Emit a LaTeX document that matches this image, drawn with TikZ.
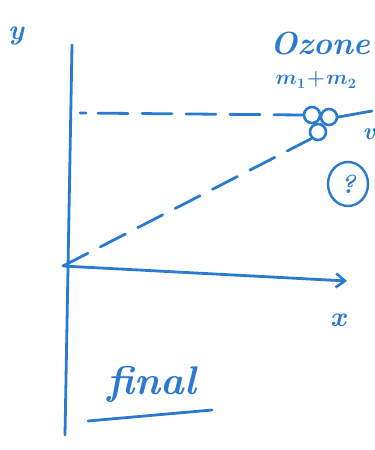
\documentclass[tikz,border=0pt]{standalone}
\usetikzlibrary{arrows.meta,shapes.geometric}
\definecolor{ink}{RGB}{42,122,208}
\begin{document}
\begin{tikzpicture}[x=1pt,y=-1pt,
  pen/.style={draw=ink,line width=2.8pt,line cap=round},
  lbl/.style={text=ink,inner sep=0pt},
  dashline/.style={pen,dash pattern=on 28pt off 14pt}]
\useasboundingbox (0,0) rectangle (375,450);
% axes
\coordinate (ytop) at (72,45);
\coordinate (ybot) at (65,435);
\coordinate (orig) at (63,266);
\coordinate (xend) at (347,281);
\draw[pen] (ytop) -- (ybot);
\draw[pen,-{Straight Barb[length=9pt,width=14pt,line width=2.6pt]}] (orig) -- (xend);
\node[lbl,font=\fontsize{28}{28}\selectfont\bfseries\itshape] (ylab) at (16,36) {y};
\node[lbl,font=\fontsize{28}{28}\selectfont\bfseries\itshape] (xlab) at (338,320) {x};
% molecule circles
\node[draw=ink,line width=2.6pt,circle,minimum size=16pt,inner sep=0pt] (c1) at (312,115) {};
\node[draw=ink,line width=2.6pt,circle,minimum size=16pt,inner sep=0pt] (c2) at (329,117) {};
\node[draw=ink,line width=2.6pt,circle,minimum size=16pt,inner sep=0pt] (c3) at (318,132) {};
% dashed lines
\coordinate (hd) at (80,113);
\draw[pen,dash pattern=on 6pt off 12pt on 30pt off 14pt on 30pt off 14pt on 30pt off 14pt on 30pt off 14pt on 30pt off 10pt] (hd) -- (c1.west);
\draw[dashline] (orig) -- (c3.south west);
\coordinate (vr) at (372,111);
\draw[pen] (c2.east) -- (vr);
% labels
\node[lbl,font=\fontsize{32}{32}\selectfont\bfseries\itshape] (ozone) at (320,44) {Ozone};
\node[lbl,font=\fontsize{22}{22}\selectfont\boldmath] (mass) at (316,80) {$m_1\!+\!m_2$};
\node[lbl,font=\fontsize{24}{24}\selectfont\bfseries\itshape] (v) at (369,134) {v};
\node[draw=ink,line width=2.4pt,ellipse,minimum width=40pt,minimum height=44pt,inner sep=0pt,text=ink,font=\fontsize{26}{26}\selectfont\bfseries\itshape] (q) at (348,184) {?};
\node[lbl,font=\fontsize{40}{40}\selectfont\bfseries\itshape] (final) at (152,384) {final};
\coordinate (ul1) at (88,421);
\coordinate (ul2) at (212,410);
\draw[pen] (ul1) -- (ul2);
\end{tikzpicture}
\end{document}
